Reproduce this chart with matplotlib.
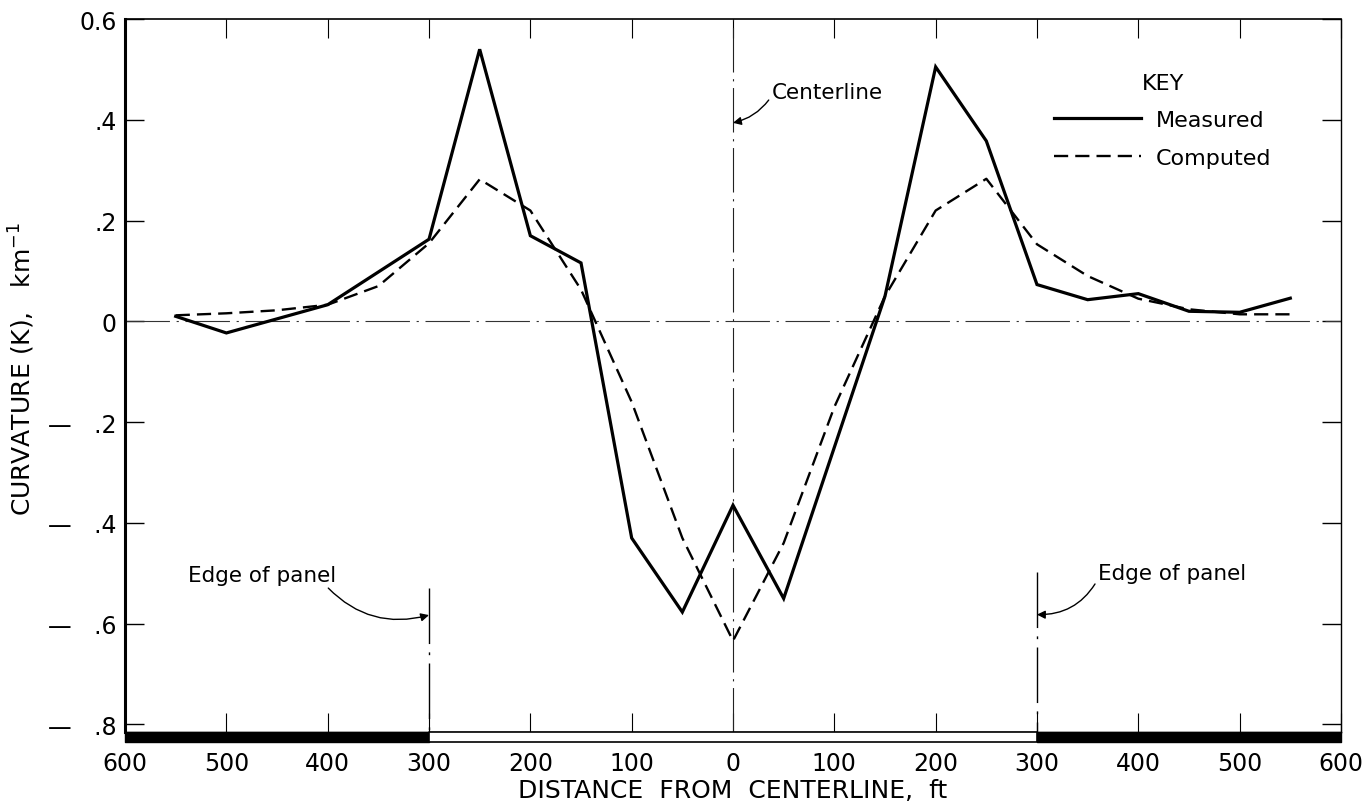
import numpy as np
import matplotlib
matplotlib.use('Agg')
import matplotlib.pyplot as plt

# Distance from centerline (ft), negative = left side
x_meas = [-550, -500, -450, -400, -350, -300, -250, -200, -150, -100, -50, 0,
          50, 100, 150, 200, 250, 300, 350, 400, 450, 500, 550]
measured = [0.01, -0.023, 0.005, 0.033, 0.098, 0.163, 0.54, 0.17, 0.116, -0.43, -0.577, -0.365,
            -0.55, -0.25, 0.05, 0.505, 0.358, 0.073, 0.043, 0.055, 0.02, 0.018, 0.046]

x_comp = [-550, -500, -450, -400, -350, -300, -250, -200, -150, -100, -50, 0,
          50, 100, 150, 200, 250, 300, 350, 400, 450, 500, 550]
computed = [0.012, 0.016, 0.022, 0.033, 0.07, 0.155, 0.282, 0.22, 0.063, -0.16, -0.43, -0.634,
            -0.44, -0.17, 0.05, 0.22, 0.283, 0.153, 0.09, 0.045, 0.024, 0.014, 0.014]

xticks = list(range(-600, 601, 100))
xtick_labels = [str(abs(v)) for v in xticks]
yticks = [0.6, 0.4, 0.2, 0, -0.2, -0.4, -0.6, -0.8]
ytick_labels = ['0.6', '.4', '.2', '0', '\u2014   .2', '\u2014   .4', '\u2014   .6', '\u2014   .8']

plt.rcParams['font.family'] = 'DejaVu Sans'

fig = plt.figure(figsize=(13.65, 8.12), dpi=100)
ax = fig.add_axes([0.0916, 0.0973, 0.8908, 0.878])

ax.plot(x_meas, measured, color='black', lw=2.3, solid_joinstyle='miter', label='Measured', zorder=4)
ax.plot(x_comp, computed, color='black', lw=1.7, linestyle=(0, (6, 3)), label='Computed', zorder=4)

# reference lines: zero, centerline, panel edges
dashdot = (0, (40, 6, 2, 6))
ax.axhline(0, color='#333333', lw=0.8, linestyle=dashdot, zorder=2)
ax.axvline(0, color='#222222', lw=0.8, linestyle=dashdot, zorder=2)
ax.plot([-300, -300], [-0.53, -0.815], color='black', lw=1.0, linestyle=dashdot, zorder=2)
ax.plot([300, 300], [-0.497, -0.815], color='black', lw=1.0, linestyle=dashdot, zorder=2)

ax.set_xlim(-600, 600)
ax.set_ylim(-0.815, 0.6)

# bar under the axis: black outside the panel, white over the panel
ax.broken_barh([(-600, 300), (300, 300)], (-0.835, 0.02), facecolors='black',
               edgecolor='black', clip_on=False, zorder=5)
ax.broken_barh([(-300, 600)], (-0.835, 0.02), facecolors='white',
               edgecolor='black', lw=1.2, clip_on=False, zorder=5)

ax.set_xticks(xticks)
ax.set_xticklabels(xtick_labels)
ax.set_yticks(yticks)
ax.set_yticklabels(ytick_labels)
ax.tick_params(axis='x', direction='in', length=14, width=0.8, top=True, bottom=True,
               labelsize=17, pad=14)
ax.tick_params(axis='y', direction='in', length=14, width=1.0, left=True, right=True,
               labelsize=17, pad=6)

ax.spines['left'].set_linewidth(2.2)
ax.spines['top'].set_linewidth(1.2)
ax.spines['right'].set_linewidth(1.0)
ax.spines['bottom'].set_linewidth(1.0)

ax.set_xlabel('DISTANCE  FROM  CENTERLINE,  ft', fontsize=18, labelpad=2)
ax.set_ylabel('CURVATURE (K),   km$^{-1}$', fontsize=18)
ax.yaxis.set_label_coords(-0.072, 0.51)

arrow = dict(arrowstyle='-|>', color='black', lw=1.0, mutation_scale=12)
ax.annotate('Centerline', xy=(0, 0.394), xytext=(38, 0.455), fontsize=15.5,
            va='center', ha='left',
            arrowprops=dict(arrow, connectionstyle='arc3,rad=-0.2', shrinkA=0, shrinkB=0,
                            relpos=(0, 0.3)))
ax.annotate('Edge of panel', xy=(-300, -0.583), xytext=(-538, -0.504), fontsize=15.5,
            va='center', ha='left',
            arrowprops=dict(arrow, connectionstyle='arc3,rad=0.3', shrinkA=0, shrinkB=0,
                            relpos=(0.93, 0)))
ax.annotate('Edge of panel', xy=(300, -0.582), xytext=(360, -0.5), fontsize=15.5,
            va='center', ha='left',
            arrowprops=dict(arrow, connectionstyle='arc3,rad=-0.3', shrinkA=0, shrinkB=0,
                            relpos=(0, 0.2)))

leg = ax.legend(loc='upper left', bbox_to_anchor=(0.7566, 0.937), frameon=False,
                title='KEY', fontsize=16, title_fontsize=16, handlelength=3.9,
                handletextpad=0.7, labelspacing=0.78, borderaxespad=0)

fig.savefig('out.png', dpi=100)
